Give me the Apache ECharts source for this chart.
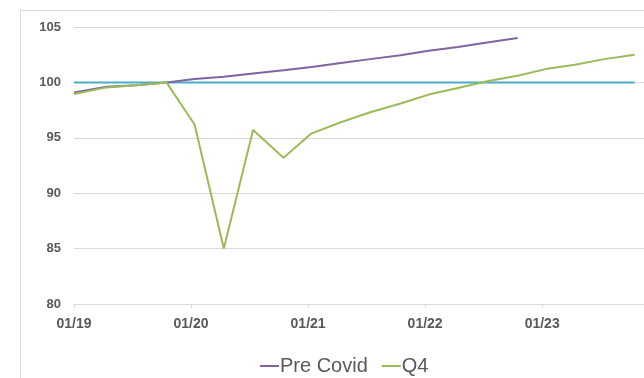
<!DOCTYPE html>
<html>
<head>
<meta charset="utf-8">
<script src="https://cdn.jsdelivr.net/npm/echarts@6/dist/echarts.min.js"></script>
<style>
  html, body { margin: 0; padding: 0; background: #ffffff; }
  #chart { width: 644px; height: 378px; }
</style>
</head>
<body>
<div id="chart"></div>
<script>
// Quarterly observation dates, as fractional years
const periods = [
  2019.0, 2019.28, 2019.53, 2019.79,
  2020.03, 2020.28, 2020.53, 2020.79,
  2021.03, 2021.28, 2021.53, 2021.79,
  2022.03, 2022.28, 2022.53, 2022.79,
  2023.03, 2023.28, 2023.53, 2023.79
];

// Pre-Covid trajectory (index, ends late 2022)
const preCovid = [
  99.1, 99.6, 99.75, 100.0,
  100.3, 100.5, 100.8, 101.1,
  101.4, 101.75, 102.1, 102.45,
  102.85, 103.2, 103.6, 104.0
];

// Q4 scenario
const q4 = [
  98.95, 99.55, 99.75, 100.0,
  96.2, 85.0, 95.7, 93.2,
  95.4, 96.4, 97.3, 98.1,
  98.9, 99.5, 100.1, 100.6,
  101.2, 101.6, 102.1, 102.5
];

// Reference level
const baseline = periods.map(() => 100);

const yTicks = { min: 80, max: 105, step: 5 };
const xTickLabels = ['01/19', '01/20', '01/21', '01/22', '01/23'];

const pairs = (vals) => vals.map((v, i) => [periods[i], v]);

const textColor = '#595959';
const chart = echarts.init(document.getElementById('chart'));

chart.setOption({
  animation: false,
  backgroundColor: '#ffffff',
  graphic: [{
    type: 'rect',
    left: 18, top: 8,
    shape: { width: 700, height: 420 },
    style: { fill: 'none', stroke: '#d9d9d9', lineWidth: 1 },
    silent: true
  }],
  grid: { left: 74, right: 0, top: 27, bottom: 74, containLabel: false },
  legend: {
    top: 351,
    left: 255,
    itemWidth: 19,
    itemHeight: 2,
    itemGap: 14,
    icon: 'rect',
    textStyle: { fontFamily: 'Liberation Sans, Arial, sans-serif', fontSize: 20, color: textColor, padding: [0, 0, 0, -4] },
    data: ['Pre Covid', 'Q4']
  },
  xAxis: {
    type: 'value',
    min: 2019,
    max: 2023.87,
    interval: 1,
    axisLine: { show: true, lineStyle: { color: '#d9d9d9', width: 1 } },
    axisTick: { show: true, length: 4, lineStyle: { color: '#d9d9d9' } },
    splitLine: { show: false },
    axisLabel: {
      showMaxLabel: false,
      margin: 13,
      color: textColor,
      fontFamily: 'Liberation Sans, Arial, sans-serif',
      fontWeight: 'bold',
      fontSize: 14,
      formatter: (v) => {
        const idx = Math.round(v - 2019);
        return Math.abs(v - Math.round(v)) < 1e-6 ? (xTickLabels[idx] || '') : '';
      }
    }
  },
  yAxis: {
    type: 'value',
    min: yTicks.min,
    max: yTicks.max,
    interval: yTicks.step,
    axisLine: { show: false },
    axisTick: { show: false },
    splitLine: { show: true, lineStyle: { color: '#d9d9d9', width: 1 } },
    axisLabel: {
      margin: 13,
      color: textColor,
      fontFamily: 'Liberation Sans, Arial, sans-serif',
      fontWeight: 'bold',
      fontSize: 13
    }
  },
  series: [
    {
      name: 'Baseline',
      type: 'line',
      data: pairs(baseline),
      symbol: 'none',
      lineStyle: { color: '#4bacc6', width: 2 },
      itemStyle: { color: '#4bacc6' },
      z: 1
    },
    {
      name: 'Pre Covid',
      type: 'line',
      data: pairs(preCovid),
      symbol: 'none',
      lineStyle: { color: '#8064a2', width: 2 },
      itemStyle: { color: '#8064a2' },
      z: 2
    },
    {
      name: 'Q4',
      type: 'line',
      data: pairs(q4),
      symbol: 'none',
      lineStyle: { color: '#9bbb59', width: 2 },
      itemStyle: { color: '#9bbb59' },
      z: 3
    }
  ]
});
</script>
</body>
</html>
